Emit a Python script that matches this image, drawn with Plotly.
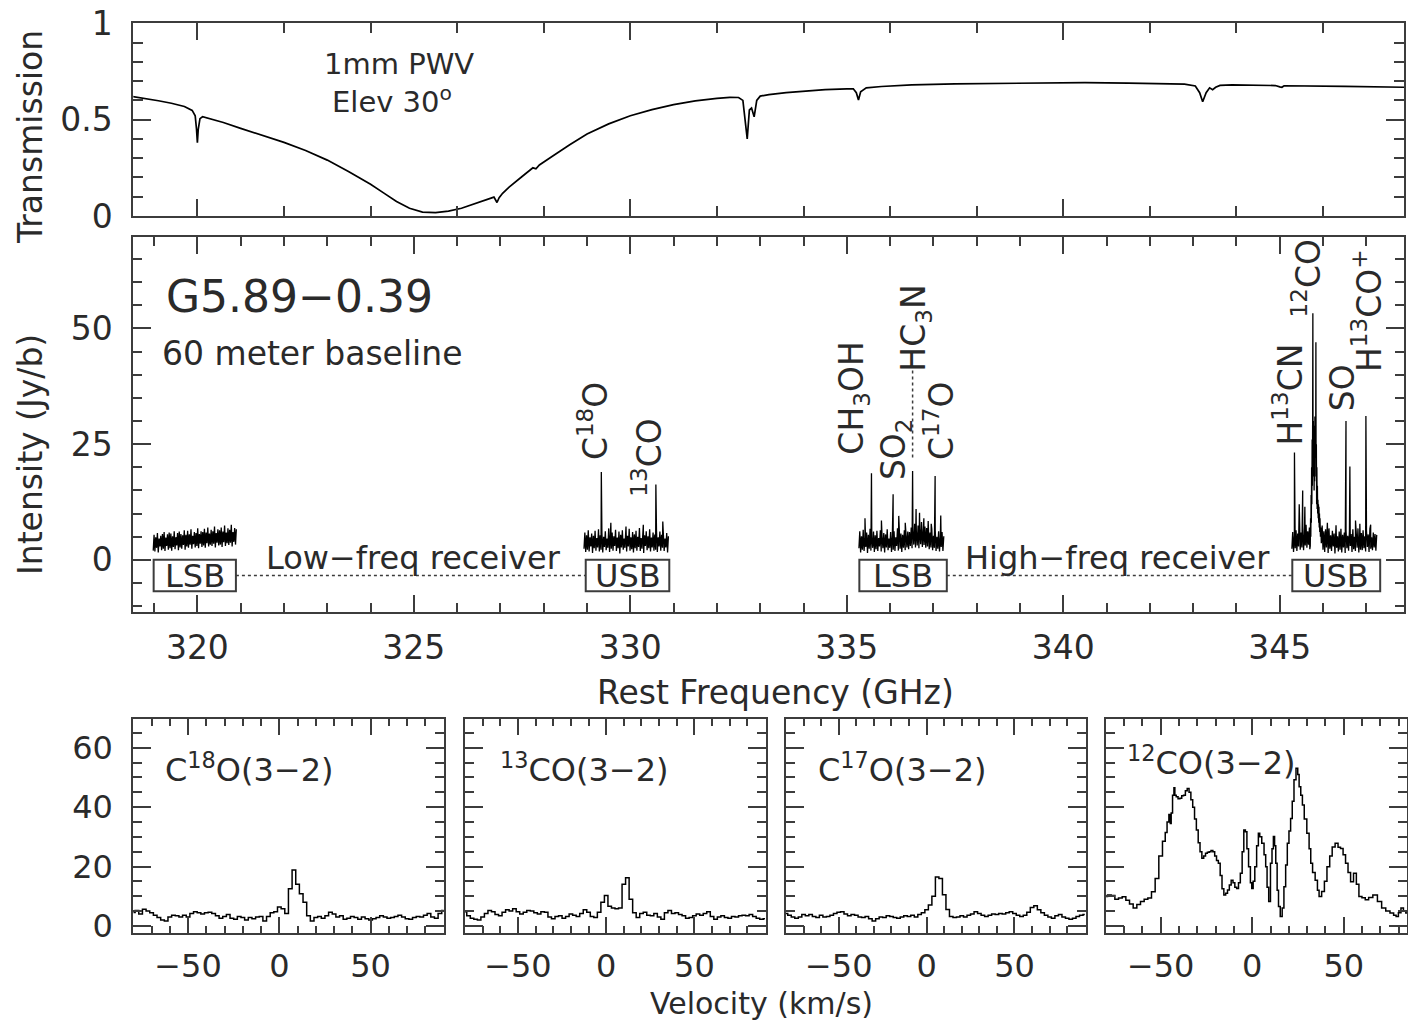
import numpy as np
import plotly.graph_objects as go

W, H = 1408, 1021
FONT = "DejaVu Sans"
TX = "#2a2a2a"
FR = "#3c3c3c"


def PX(x):
    return x / W


def PY(y):
    return 1 - y / H


# ---------------- Data: atmospheric transmission ----------------
trans_freq = [318.5, 318.8, 319.1, 319.4, 319.7, 319.88, 319.95, 319.98, 320.0, 320.02, 320.06, 320.12,
              320.3, 320.6, 321.0, 321.5, 322.0, 322.5, 323.0, 323.5, 324.0, 324.3, 324.6, 324.9,
              325.2, 325.5, 325.8, 326.1, 326.4, 326.7, 326.85, 326.92, 326.97, 327.05, 327.2, 327.5,
              327.75, 327.82, 327.9, 328.2, 328.6, 329.0, 329.5, 330.0, 330.5, 331.0, 331.5, 332.0,
              332.3, 332.5, 332.6, 332.65, 332.7, 332.75, 332.8, 332.86, 332.92, 333.0, 333.2, 333.6,
              334.0, 334.5, 335.0, 335.15, 335.22, 335.27, 335.32, 335.45, 335.8, 336.5, 337.5, 338.5,
              339.5, 340.5, 341.5, 342.3, 342.8, 343.05, 343.15, 343.22, 343.3, 343.38, 343.45, 343.52,
              343.62, 343.9, 344.4, 344.9, 345.0, 345.05, 345.1, 345.5, 346.5, 347.9]
trans_val = [0.620, 0.610, 0.598, 0.585, 0.568, 0.548, 0.52, 0.45, 0.38, 0.45, 0.505, 0.515,
             0.505, 0.485, 0.455, 0.420, 0.382, 0.340, 0.290, 0.230, 0.165, 0.120, 0.075, 0.040,
             0.020, 0.018, 0.025, 0.040, 0.062, 0.085, 0.098, 0.070, 0.095, 0.118, 0.150, 0.205,
             0.250, 0.245, 0.265, 0.310, 0.370, 0.425, 0.478, 0.520, 0.552, 0.578, 0.597, 0.610,
             0.616, 0.615, 0.600, 0.50, 0.40, 0.55, 0.56, 0.515, 0.60, 0.622, 0.630, 0.640,
             0.648, 0.656, 0.660, 0.660, 0.64, 0.602, 0.645, 0.665, 0.672, 0.680, 0.686, 0.689,
             0.691, 0.692, 0.690, 0.687, 0.684, 0.675, 0.64, 0.593, 0.64, 0.665, 0.655, 0.668,
             0.678, 0.680, 0.679, 0.677, 0.670, 0.668, 0.676, 0.676, 0.673, 0.668]

# ---------------- Data: wideband spectrum (Jy/b) ----------------
lsb_low_range = [318.98, 320.90]
lsb_low_vals = [2.0, 5.4, 1.8, 4.9, 2.6, 5.8, 1.6, 4.6, 2.9, 5.2, 2.1, 5.6, 2.4, 6.0, 1.9, 4.8, 3.0, 5.5, 2.2, 5.9,
                2.5, 5.7, 2.0, 5.1, 2.8, 6.2, 2.3, 4.9, 3.1, 5.8, 2.1, 6.1, 2.7, 5.6, 2.4, 5.3, 3.2, 6.4, 2.2, 5.4,
                2.9, 6.3, 2.6, 5.5, 3.3, 6.6, 2.4, 5.2, 3.4, 6.0, 2.7, 5.8, 3.0, 6.8, 2.5, 5.6, 3.5, 6.2, 2.8, 6.0,
                3.1, 6.7, 2.6, 5.9, 3.6, 7.0, 2.9, 5.7, 3.3, 6.5, 3.0, 6.2, 3.5, 7.2, 2.7, 5.8, 3.7, 6.6, 3.1, 6.4,
                3.3, 7.0, 2.8, 6.1, 3.8, 7.4, 3.0, 5.9, 3.6, 6.8, 3.2, 6.5, 3.7, 7.6, 2.9, 6.0, 3.9, 6.9, 3.3, 6.6]

usb_low_range = [328.93, 330.88]
usb_low_vals = [2.4, 5.9, 1.7, 5.3, 2.2, 6.4, 1.8, 4.9, 2.9, 5.7, 1.5, 5.2, 2.5, 6.3, 2.0, 4.7, 2.7, 6.6, 1.8, 5.3,
                2.2, 5.8, 1.6, 5.0, 2.8, 6.2, 2.1, 4.6, 2.6, 6.8, 1.7, 5.6, 2.4, 5.9, 2.0, 5.1, 3.0, 6.5, 1.9, 4.8,
                2.5, 6.1, 1.4, 5.4, 2.7, 6.4, 2.2, 4.6, 2.6, 5.7, 1.8, 5.2, 2.9, 6.7, 2.0, 4.9, 2.3, 6.0, 1.6, 5.5,
                2.5, 6.3, 2.0, 5.0, 2.8, 6.9, 1.9, 4.7, 2.4, 5.8, 1.5, 5.3, 3.0, 6.2, 2.1, 5.1, 2.5, 6.6, 1.8, 4.8,
                2.7, 5.9, 2.0, 5.5, 2.2, 6.4, 1.7, 4.9, 2.9, 6.1, 2.0, 5.4, 2.6, 6.5, 1.9, 4.6, 2.7, 5.8, 1.6, 5.1]
usb_low_line_freq = [329.33, 330.59, 329.55, 329.90, 330.30, 330.75]
usb_low_line_peak = [19.0, 16.3, 8.0, 7.2, 7.6, 8.3]

lsb_high_range = [335.28, 337.24]
lsb_high_vals = [2.5, 6.2, 1.6, 5.1, 2.2, 6.5, 1.9, 4.8, 2.8, 5.9, 1.5, 5.4, 2.4, 6.7, 2.0, 4.9, 2.6, 6.1, 1.7, 5.3,
                 2.3, 6.3, 1.9, 4.7, 2.9, 6.4, 1.8, 5.0, 2.5, 5.8, 1.6, 5.5, 2.7, 6.6, 2.1, 4.6, 2.6, 6.0, 1.7, 5.2,
                 2.2, 6.2, 1.9, 4.9, 3.0, 6.8, 2.0, 5.1, 2.4, 5.7, 1.7, 5.4, 2.6, 6.4, 2.1, 4.8, 2.7, 6.1, 2.3, 6.0,
                 3.0, 7.0, 2.5, 6.3, 3.3, 7.8, 2.7, 6.1, 3.1, 7.4, 2.5, 6.7, 3.4, 8.2, 2.8, 6.4, 3.2, 7.2, 2.6, 6.9,
                 2.9, 7.3, 2.3, 5.9, 2.7, 6.7, 2.1, 5.2, 2.6, 6.5, 1.9, 5.0, 2.4, 6.2, 1.8, 4.9, 2.8, 6.0, 1.9, 5.1]
lsb_high_line_freq = [335.42, 335.57, 335.80, 336.07, 336.20, 336.35, 336.52, 336.60, 336.68, 336.78,
                      336.88, 336.95, 337.04, 337.17]
lsb_high_line_peak = [9.0, 18.7, 8.5, 14.2, 9.5, 8.0, 19.2, 11.0, 10.2, 9.0, 8.4, 7.8, 18.1, 9.6]

usb_high_left_range = [345.28, 345.685]
usb_high_left_vals = [2.4, 6.0, 1.7, 5.3, 2.5, 6.4, 1.9, 5.7, 2.9, 6.8, 2.2, 5.9, 2.7, 7.2, 2.1, 5.5, 3.1, 7.6,
                      2.6, 6.2, 3.3, 7.0]
co12_freq = [345.695, 345.700, 345.705, 345.712, 345.718, 345.724, 345.730, 345.736, 345.742, 345.748,
             345.754, 345.760, 345.765, 345.770, 345.776, 345.782, 345.788, 345.794, 345.800, 345.806,
             345.812, 345.818, 345.824, 345.830, 345.835, 345.840, 345.846, 345.852, 345.858, 345.864,
             345.870, 345.876, 345.882, 345.888, 345.894, 345.900, 345.906, 345.912, 345.918, 345.924,
             345.930, 345.940, 345.950]
co12_vals = [2.3, 6.0, 3.0, 9.0, 5.0, 14.0, 8.0, 20.0, 12.0, 26.0,
             16.0, 31.0, 53.3, 20.0, 30.0, 18.0, 29.0, 15.0, 27.0, 17.0,
             31.0, 19.0, 28.0, 22.0, 47.0, 18.0, 25.0, 12.0, 20.0, 11.0,
             16.0, 10.0, 13.0, 9.0, 12.0, 8.0, 11.5, 7.0, 10.0, 6.0,
             9.0, 5.0, 7.0]
usb_high_right_range = [345.96, 347.24]
usb_high_right_vals = [3.6, 7.4, 2.2, 6.2, 1.7, 6.6, 2.7, 5.5, 1.5, 6.8, 2.4, 5.3, 1.9, 6.3, 2.9, 5.7, 1.4, 6.5,
                       2.6, 5.1, 1.8, 6.1, 2.2, 6.7, 1.6, 5.4, 2.7, 5.9, 1.5, 6.4, 2.5, 5.2, 2.0, 6.2, 3.0, 5.6,
                       1.7, 6.6, 2.3, 5.0, 1.9, 6.0, 2.6, 6.8, 1.6, 5.3, 2.2, 5.8, 2.1, 6.4, 2.5, 5.1, 1.8, 6.3,
                       2.8, 5.5, 1.7, 6.7, 2.4, 4.9, 2.1, 5.9, 2.7, 5.6, 2.0, 5.4]
usb_high_line_freq = [345.34, 345.45, 345.53, 345.58, 346.10, 346.30, 346.53, 346.62, 346.75, 346.85,
                      346.99, 347.10]
usb_high_line_peak = [23.2, 12.0, 15.0, 11.5, 8.0, 7.5, 30.0, 20.2, 8.5, 7.8, 31.1, 7.6]

# sideband boxes (GHz) and labels
box_lo = [318.99, 328.97, 335.29, 345.29]
box_hi = [320.89, 330.90, 337.31, 347.32]
box_text = ["LSB", "USB", "LSB", "USB"]
box_bottom = -6.8
receiver_text = ["Low\u2212freq receiver", "High\u2212freq receiver"]
receiver_x = [325.0, 341.26]

line_labels = ["C<sup>18</sup>O", "<sup>13</sup>CO", "CH<sub>3</sub>OH", "SO<sub>2</sub>", "HC<sub>3</sub>N",
               "C<sup>17</sup>O", "H<sup>13</sup>CN", "<sup>12</sup>CO", "SO", "H<sup>13</sup>CO<sup>+</sup>"]
line_label_x = [329.14, 330.41, 335.15, 336.11, 336.58, 337.13, 345.20, 345.63, 346.45, 347.03]
line_label_y = [30.0, 22.1, 34.9, 23.9, 50.0, 30.0, 35.8, 60.8, 37.2, 53.9]

# ---------------- Data: velocity spectra ----------------
vel_grid = [-80, 90]  # 2 km/s channels
c18o_vals = [4.5, 5.2, 4.0, 5.6, 5.0, 4.4, 3.6, 2.8, 2.0, 1.6, 3.0, 3.6, 3.4, 3.0, 3.6, 3.0, 4.2, 4.8, 4.4, 4.0,
             4.4, 4.6, 4.2, 3.4, 2.6, 3.2, 3.8, 2.6, 2.2, 3.2, 2.8, 2.0, 2.8, 2.4, 3.0, 3.2, 1.6, 3.2, 4.4, 4.8,
             6.4, 5.8, 4.2, 12.5, 18.8, 14.0, 10.8, 8.0, 3.4, 1.6, 2.8, 3.2, 2.6, 3.4, 4.6, 4.0, 3.0, 3.4, 2.2, 2.6,
             3.2, 2.8, 2.2, 3.0, 2.4, 2.0, 2.4, 2.8, 3.4, 3.0, 2.6, 2.8, 3.2, 3.6, 3.0, 2.4, 2.2, 2.8, 3.2, 3.0,
             3.6, 4.2, 3.0, 2.6, 4.2, 5.2]
co13_vals = [4.8, 3.4, 2.6, 2.2, 2.0, 3.0, 4.2, 5.2, 4.8, 3.8, 3.4, 4.6, 5.4, 5.0, 5.8, 4.8, 4.0, 4.6, 5.2, 5.0,
             4.4, 4.0, 4.8, 4.6, 3.0, 2.4, 3.2, 3.4, 2.6, 3.2, 4.0, 3.6, 3.2, 4.2, 5.4, 4.6, 3.2, 2.8, 4.6, 8.0,
             10.2, 6.6, 6.0, 5.8, 6.0, 14.0, 16.2, 9.0, 4.4, 2.8, 4.2, 4.6, 3.6, 3.4, 4.2, 3.0, 2.2, 4.4, 5.2, 4.2,
             4.4, 3.8, 3.4, 2.6, 2.8, 3.4, 4.0, 3.6, 4.2, 4.8, 3.2, 2.2, 3.0, 3.4, 2.8, 2.6, 3.2, 3.0, 3.4, 3.6,
             3.4, 3.8, 3.2, 2.6, 2.2, 2.4]
c17o_vals = [4.2, 3.6, 3.0, 2.6, 3.0, 3.8, 3.4, 3.8, 3.2, 2.8, 3.6, 3.0, 3.2, 3.6, 4.2, 4.6, 4.8, 4.0, 3.4, 3.8,
             3.6, 3.0, 2.8, 3.2, 2.4, 1.6, 2.4, 3.0, 2.8, 3.4, 3.2, 2.8, 2.6, 3.0, 3.4, 3.2, 3.6, 3.0, 3.8, 4.4,
             5.4, 7.0, 10.0, 16.5, 16.0, 10.5, 5.5, 3.2, 2.8, 3.0, 3.4, 3.0, 3.6, 4.0, 4.8, 4.2, 3.6, 3.2, 3.6, 4.0,
             3.8, 4.2, 4.0, 4.4, 4.8, 4.2, 3.6, 3.2, 3.6, 4.6, 6.2, 6.8, 5.4, 4.4, 3.6, 3.0, 2.6, 3.4, 3.8, 3.0,
             2.6, 2.2, 2.6, 3.2, 3.6, 3.8]
co12_vel = [-80, -78, -76, -74, -72, -70, -68, -66, -64, -62, -60, -58, -56, -54, -52, -50, -48, -47, -46, -45,
            -44.5, -44, -43, -42.5, -42, -41, -40, -39, -38, -37, -36, -35, -34, -33, -32, -31, -30, -29, -28, -27,
            -26, -25, -24, -23, -22, -21, -20, -19, -18, -17, -16, -15, -14, -13, -12, -11, -10, -9, -8, -7,
            -6, -5, -4.2, -3.3, -2.5, -1.5, -0.5, 0, 1, 1.8, 3, 3.7, 4.5, 5.9, 7, 7.7, 8.5, 9.5, 10.4, 11.2,
            11.9, 12.5, 13.2, 14, 14.7, 15.9, 16.8, 17.8, 18.7, 19.6, 20.5, 21.4, 22.3, 23.3, 24.5, 25.2, 26.0,
            27.0, 27.8, 29, 30.6, 31.5, 32.4, 33.5, 35.2, 36, 37, 38.8, 40, 41.6, 43, 44.3, 46.2, 47.5, 48.9,
            50.3, 51.6, 53, 54.4, 56.2, 57.5, 59, 60.8, 62.6, 64.5, 67.2, 69.5, 71.8, 74, 76.4, 78, 79.1, 80.5,
            81.9, 83.2, 84.5]
co12_int = [9.9, 10.4, 10.2, 9.0, 9.4, 9.8, 8.6, 7.4, 6.0, 7.2, 8.2, 9.0, 9.4, 11.5, 16.0, 23.5, 28.5, 31.5, 35.0, 37.5,
            34.5, 38.0, 44.0, 46.5, 44.0, 43.5, 42.8, 43.0, 43.8, 44.0, 45.5, 46.3, 45.0, 42.5, 40.0, 36.0, 32.3, 28.0, 25.0, 22.8,
            23.5, 24.5, 24.8, 25.0, 25.4, 25.0, 23.5, 22.0, 21.1, 17.0, 12.5, 10.4, 11.0, 12.1, 13.8, 15.4, 14.5, 13.0, 12.6, 14.5,
            17.7, 25.0, 32.3, 31.7, 26.0, 19.9, 14.5, 12.6, 15.0, 19.9, 27.0, 31.2, 30.0, 27.8, 24.0, 19.9, 13.0, 8.2, 21.1, 26.0,
            30.1, 27.0, 21.1, 12.0, 6.5, 3.2, 6.0, 13.2, 20.5, 27.8, 32.0, 36.2, 42.0, 49.2, 53.1, 51.0, 46.9,
            44.0, 40.7, 36.0, 31.2, 26.0, 21.1, 18.0, 15.4, 12.0, 9.9, 11.6, 15.0, 19.9, 23.5, 26.6, 27.8, 26.5, 26.1,
            24.0, 21.1, 18.0, 14.9, 17.7, 14.0, 9.9, 9.5, 8.8, 9.6, 10.4, 8.2, 6.0, 5.0, 4.3, 3.6, 3.2, 4.4,
            6.0, 5.0, 4.3]
panel_titles = ["C<sup>18</sup>O(3\u22122)", "<sup>13</sup>CO(3\u22122)", "C<sup>17</sup>O(3\u22122)",
                "<sup>12</sup>CO(3\u22122)"]


# ---------------- Build figure ----------------
def with_lines(f, v, lf, lp):
    f = np.concatenate([np.asarray(f, float), np.asarray(lf, float)])
    v = np.concatenate([np.asarray(v, float), np.asarray(lp, float)])
    o = np.argsort(f, kind="stable")
    return f[o], v[o]


def grid(rng, vals):
    return np.linspace(rng[0], rng[1], len(vals))


fig = go.Figure()
fig.add_trace(go.Scatter(x=trans_freq, y=trans_val, mode="lines", line=dict(color="black", width=1.7),
                         xaxis="x", yaxis="y"))

segs = [(grid(lsb_low_range, lsb_low_vals), np.array(lsb_low_vals)),
        with_lines(grid(usb_low_range, usb_low_vals), usb_low_vals, usb_low_line_freq, usb_low_line_peak),
        with_lines(grid(lsb_high_range, lsb_high_vals), lsb_high_vals, lsb_high_line_freq, lsb_high_line_peak)]
fu = np.concatenate([grid(usb_high_left_range, usb_high_left_vals), co12_freq,
                     grid(usb_high_right_range, usb_high_right_vals)])
vu = np.concatenate([usb_high_left_vals, co12_vals, usb_high_right_vals])
segs.append(with_lines(fu, vu, usb_high_line_freq, usb_high_line_peak))
for f, v in segs:
    fig.add_trace(go.Scatter(x=f, y=v, mode="lines", line=dict(color="black", width=1.3),
                             xaxis="x2", yaxis="y2"))

vel = np.arange(vel_grid[0], vel_grid[1] + 1, 2)
vspec = [(vel, c18o_vals), (vel, co13_vals), (vel, c17o_vals), (co12_vel, co12_int)]
for i, (vx, vy) in enumerate(vspec):
    fig.add_trace(go.Scatter(x=vx, y=vy, mode="lines", line=dict(color="black", width=1.5, shape="hvh"),
                             xaxis="x%d" % (i + 3), yaxis="y%d" % (i + 3)))


def axis(rng, domain, anchor, dtick, mdtick, tlen, mlen, labels, tick0=0, standoff=10, fsize=33):
    return dict(range=rng, domain=domain, anchor=anchor, showline=True, mirror="allticks",
                linecolor=FR, linewidth=2, ticks="inside", ticklen=tlen, tickwidth=2, tickcolor=FR,
                dtick=dtick, tick0=tick0, automargin=False,
                minor=dict(ticks="inside", dtick=mdtick, ticklen=mlen, tickwidth=2, tickcolor=FR, showgrid=False),
                showgrid=False, zeroline=False, showticklabels=labels, ticklabelstandoff=standoff,
                tickfont=dict(family=FONT, size=fsize, color=TX), fixedrange=True)


fx = [PX(133.3), PX(1404)]
layout = dict(
    template="none",
    width=W, height=H, margin=dict(l=0, r=0, t=0, b=0, pad=0), autosize=False,
    paper_bgcolor="white", plot_bgcolor="white", showlegend=False, hovermode=False,
    xaxis=axis([318.52, 347.87], fx, "y", 10, 2, 17, 10, False, tick0=320),
    yaxis=axis([0, 1], [PY(216), PY(23.3)], "x", 0.5, 0.1, 18, 10, True, standoff=12),
    xaxis2=axis([318.52, 347.87], fx, "y2", 5, 1, 17, 9, True, standoff=6),
    yaxis2=axis([-11.2, 69.7], [PY(611.7), PY(237.3)], "x2", 25, 5, 18, 9, True, standoff=12),
)
pdom = [(133.3, 444.3), (465, 765.7), (786, 1085.5), (1105.7, 1407)]
prng = [[-80, 90.4], [-80, 90.4], [-80, 90.4], [-80, 84.5]]
for i in range(4):
    layout["xaxis%d" % (i + 3)] = axis(prng[i], [PX(pdom[i][0]), PX(pdom[i][1])], "y%d" % (i + 3),
                                       50, 10, 16, 7, True, standoff=4, fsize=32)
    layout["yaxis%d" % (i + 3)] = axis([-2.3, 69.7], [PY(932.7), PY(719)], "x%d" % (i + 3),
                                       20, 5, 18, 9, i == 0, standoff=12, fsize=32)
fig.update_layout(**layout)

shapes = []
anns = []


def ann(text, x, y, size, xref="paper", yref="paper", angle=0, xanchor="center", yanchor="middle"):
    anns.append(dict(text=text, x=x, y=y, xref=xref, yref=yref, showarrow=False, textangle=angle,
                     xanchor=xanchor, yanchor=yanchor, font=dict(family=FONT, size=size, color=TX)))


for lo, hi, t in zip(box_lo, box_hi, box_text):
    shapes.append(dict(type="rect", xref="x2", yref="y2", x0=lo, x1=hi, y0=box_bottom, y1=0,
                       line=dict(color=FR, width=2), fillcolor="rgba(0,0,0,0)"))
    ann(t, (lo + hi) / 2, box_bottom / 2, 32, "x2", "y2")
for a, b in [(box_hi[0], box_lo[1]), (box_hi[2], box_lo[3])]:
    shapes.append(dict(type="line", xref="x2", yref="y2", x0=a, x1=b, y0=box_bottom / 2, y1=box_bottom / 2,
                       line=dict(color=FR, width=1.5, dash="dot")))
shapes.append(dict(type="line", xref="x2", yref="y2", x0=336.52, x1=336.52, y0=22.1, y1=41.6,
                   line=dict(color=FR, width=1.5, dash="dot")))
for t, x in zip(receiver_text, receiver_x):
    ann(t, x, 0.45, 32, "x2", "y2")
for t, x, y in zip(line_labels, line_label_x, line_label_y):
    ann(t, x, y, 33, "x2", "y2", angle=-90)

ann("G5.89\u22120.39", PX(164), PY(296), 44, xanchor="left")
ann("60 meter baseline", PX(160), PY(353), 33, xanchor="left")
ann("1mm PWV", PX(399), PY(64), 29)
ann("Elev 30<sup>o</sup>", PX(392), PY(100), 29)
ann("Transmission", PX(30), PY(137), 33, angle=-90)
ann("Intensity (Jy/b)", PX(31), PY(455), 33, angle=-90)
ann("Rest Frequency (GHz)", PX(775), PY(692), 33)
ann("Velocity (km/s)", PX(761), PY(1003), 30)
title_x = [163, 498, 816, 1125]
title_y = [768, 768, 768, 761]
for t, x, y in zip(panel_titles, title_x, title_y):
    ann(t, PX(x), PY(y), 32, xanchor="left")

fig.update_layout(shapes=shapes, annotations=anns)
fig.write_html("out.html")
